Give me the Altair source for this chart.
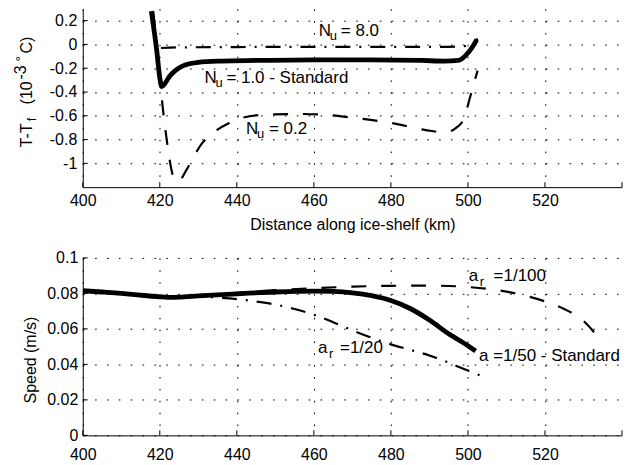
import altair as alt
import pandas as pd

FONT = "Liberation Sans"

# ---------------- axes ----------------
x_tick_values = [400, 420, 440, 460, 480, 500, 520]
x_edge_ticks = [400, 420, 440, 460, 480, 500, 520, 540]
top_y_ticks = [-1.0, -0.8, -0.6, -0.4, -0.2, 0.0, 0.2]
bot_y_ticks = [0.0, 0.02, 0.04, 0.06, 0.08, 0.1]

# ---------------- top panel: T - Tf ----------------
nu10_x = [417.8, 419.2, 420.0, 420.5, 421.3, 422.5, 424.0, 426.0, 430.0, 436.0, 445.0,
          460.0, 475.0, 488.0, 494.0, 497.5, 499.5, 501.0, 502.3]
nu10_y = [0.28, -0.05, -0.28, -0.355, -0.33, -0.27, -0.22, -0.18, -0.15, -0.14, -0.135,
          -0.13, -0.13, -0.135, -0.14, -0.135, -0.09, -0.03, 0.04]

nu80_x = [420.3, 425.0, 440.0, 460.0, 480.0, 495.0, 499.0, 501.0, 502.5]
nu80_y = [-0.03, -0.025, -0.022, -0.02, -0.02, -0.02, -0.015, 0.0, 0.05]

nu02_x = [418.3, 419.5, 420.5, 422.0, 423.0, 424.0, 425.5, 427.0, 431.0, 434.0, 438.0,
          441.0, 448.0, 456.0, 462.0, 471.0, 480.0, 489.0, 494.0, 497.0, 499.0, 500.5, 502.5]
nu02_y = [0.28, -0.1, -0.45, -0.85, -1.05, -1.15, -1.13, -1.05, -0.83, -0.74, -0.66,
          -0.62, -0.59, -0.585, -0.59, -0.62, -0.66, -0.72, -0.74, -0.70, -0.62, -0.45, -0.22]

# ---------------- bottom panel: speed ----------------
ar50_x = [400, 405, 410, 415, 420, 422, 425, 430, 440, 450, 460, 465, 470, 475, 480,
          485, 490, 495, 500, 502]
ar50_y = [0.0815, 0.0808, 0.0800, 0.0790, 0.0781, 0.0778, 0.0779, 0.0786, 0.0798, 0.0808,
          0.0813, 0.0811, 0.0803, 0.0787, 0.0760, 0.0715, 0.0650, 0.0572, 0.0505, 0.0475]

ar100_x = [400, 410, 420, 422, 430, 440, 450, 460, 470, 480, 490, 500, 505, 510, 515,
           520, 525, 530, 533.5]
ar100_y = [0.0815, 0.0800, 0.0781, 0.0778, 0.0788, 0.0803, 0.0818, 0.0829, 0.0838, 0.0843,
           0.0844, 0.0836, 0.0826, 0.0810, 0.0786, 0.0755, 0.0712, 0.0645, 0.0562]

ar20_x = [400, 410, 420, 422, 430, 435, 440, 445, 450, 455, 460, 465, 470, 475, 480,
          485, 490, 495, 500, 505]
ar20_y = [0.0815, 0.0800, 0.0781, 0.0778, 0.0782, 0.0777, 0.0768, 0.0754, 0.0737, 0.0712,
          0.0680, 0.0638, 0.0592, 0.0550, 0.0513, 0.0482, 0.0450, 0.0410, 0.0365, 0.0323]

# ---------------- annotations (data coordinates of label start) ----------------
top_labels = [
    {"main": "N", "sub": "u", "rest": "= 8.0", "x": 461.3, "y": 0.074, "rdx": 22},
    {"main": "N", "sub": "u", "rest": "= 1.0 - Standard", "x": 431.6, "y": -0.328, "rdx": 22},
    {"main": "N", "sub": "u", "rest": "= 0.2", "x": 442.4, "y": -0.756, "rdx": 23},
]
bot_labels = [
    {"main": "a", "sub": "r", "rest": "=1/100", "x": 500.2, "y": 0.0871, "rdx": 25},
    {"main": "a", "sub": "r", "rest": "=1/20", "x": 461.1, "y": 0.0466, "rdx": 22},
    {"main": "a =1/50 - Standard", "sub": "", "rest": "", "x": 502.9, "y": 0.0421, "rdx": 0},
]

W = 541
H1 = 179
H2 = 178
TXT = 16
ANN = 17

xscale = alt.Scale(domain=[400, 540], nice=False, zero=False)
top_yscale = alt.Scale(domain=[-1.2, 0.3], nice=False, zero=False)
bot_yscale = alt.Scale(domain=[0, 0.1], nice=False, zero=False)

GRID = dict(grid=True, gridColor="black", gridOpacity=1, gridWidth=1, gridDash=[1.6, 10.3],
            domainColor="black", domainWidth=1, tickSize=0, ticks=False,
            labelFont=FONT, labelFontSize=TXT, labelColor="black",
            labelOverlap=False, labelFlush=False, labelBound=False,
            titleFont=FONT, titleFontSize=TXT, titleColor="black", titleFontWeight="normal",
            labelExpr="'' + datum.value")


def series(xs, ys):
    return pd.DataFrame({"x": xs, "y": ys, "i": list(range(len(xs)))})


def line(df, yscale, xaxis, yaxis, width, dash=None):
    kw = dict(color="black", strokeWidth=width, clip=True, strokeJoin="round",
              interpolate="monotone")
    if dash:
        kw["strokeDash"] = dash
    return alt.Chart(df).mark_line(**kw).encode(
        x=alt.X("x:Q", scale=xscale, axis=xaxis),
        y=alt.Y("y:Q", scale=yscale, axis=yaxis),
        order="i:Q",
    )


def ticks(yscale, yvals, h, xaxis, yaxis):
    xt = alt.Chart(pd.DataFrame({"v": x_edge_ticks})).mark_rule(color="black", strokeWidth=1).encode(
        x=alt.X("v:Q", scale=xscale, axis=xaxis), y=alt.value(h), y2=alt.value(h - 5))
    yt = alt.Chart(pd.DataFrame({"v": yvals})).mark_rule(color="black", strokeWidth=1).encode(
        y=alt.Y("v:Q", scale=yscale, axis=yaxis), x=alt.value(0), x2=alt.value(5))
    return [xt, yt]


def annotations(labels, yscale, sub_dy, xaxis, yaxis):
    layers = []
    for lab in labels:
        d = pd.DataFrame([lab])
        base = alt.Chart(d)
        enc = dict(x=alt.X("x:Q", scale=xscale, axis=xaxis),
                   y=alt.Y("y:Q", scale=yscale, axis=yaxis))
        layers.append(base.mark_text(align="left", baseline="alphabetic", font=FONT,
                                     fontSize=ANN, color="black").encode(text="main:N", **enc))
        if lab["sub"]:
            layers.append(base.mark_text(align="left", baseline="alphabetic", font=FONT,
                                         fontSize=ANN - 4, color="black", dx=11, dy=sub_dy
                                         ).encode(text="sub:N", **enc))
            layers.append(base.mark_text(align="left", baseline="alphabetic", font=FONT,
                                         fontSize=ANN, color="black", dx=lab["rdx"]
                                         ).encode(text="rest:N", **enc))
    return layers


def vtext(pieces):
    layers = []
    for txt, xp, yp, fs in pieces:
        layers.append(alt.Chart(pd.DataFrame({"t": [txt]})).mark_text(
            angle=270, align="left", baseline="alphabetic", font=FONT, fontSize=fs,
            color="black").encode(text="t:N", x=alt.value(xp), y=alt.value(yp)))
    return layers


# ---------------- top chart ----------------
top_xaxis = alt.Axis(values=x_tick_values, title="Distance along ice-shelf (km)",
                     labelPadding=5, titlePadding=8, **GRID)
top_yaxis = alt.Axis(values=top_y_ticks, title=None, labelPadding=6, **GRID)

top_title = [
    ("T-T", -51, 139, TXT),
    ("f", -47, 113, TXT - 3),
    ("(10", -51, 96, TXT),
    ("-3", -57, 71, TXT),
    ("°", -57, 53, TXT - 2),
    ("C)", -51, 45, TXT),
]

top = alt.layer(
    line(series(nu02_x, nu02_y), top_yscale, top_xaxis, top_yaxis, 2.2, [15, 15]),
    line(series(nu80_x, nu80_y), top_yscale, top_xaxis, top_yaxis, 2.2, [15, 9, 2, 9]),
    line(series(nu10_x, nu10_y), top_yscale, top_xaxis, top_yaxis, 4.8),
    *ticks(top_yscale, top_y_ticks, H1, top_xaxis, top_yaxis),
    *annotations(top_labels, top_yscale, 4, top_xaxis, top_yaxis),
    *vtext(top_title),
).properties(width=W, height=H1)

# ---------------- bottom chart ----------------
bot_xaxis = alt.Axis(values=x_tick_values, title=None, labelPadding=11, **GRID)
bot_yaxis = alt.Axis(values=bot_y_ticks, title=None, labelPadding=5, **GRID)

bot_title = [("Speed  (m/s)", -47, 146, TXT)]

bottom = alt.layer(
    line(series(ar100_x, ar100_y), bot_yscale, bot_xaxis, bot_yaxis, 2.2, [15, 15]),
    line(series(ar20_x, ar20_y), bot_yscale, bot_xaxis, bot_yaxis, 2.2, [15, 9, 2, 9]),
    line(series(ar50_x, ar50_y), bot_yscale, bot_xaxis, bot_yaxis, 4.8),
    *ticks(bot_yscale, bot_y_ticks, H2, bot_xaxis, bot_yaxis),
    *annotations(bot_labels, bot_yscale, 5, bot_xaxis, bot_yaxis),
    *vtext(bot_title),
).properties(width=W, height=H2)

chart = alt.vconcat(top, bottom, spacing=18).configure(
    padding={"left": 5, "top": 0, "right": 0, "bottom": 0},
    background="white",
).configure_view(stroke=None)

chart.save("out.html", embed_options={"renderer": "svg", "actions": False})
